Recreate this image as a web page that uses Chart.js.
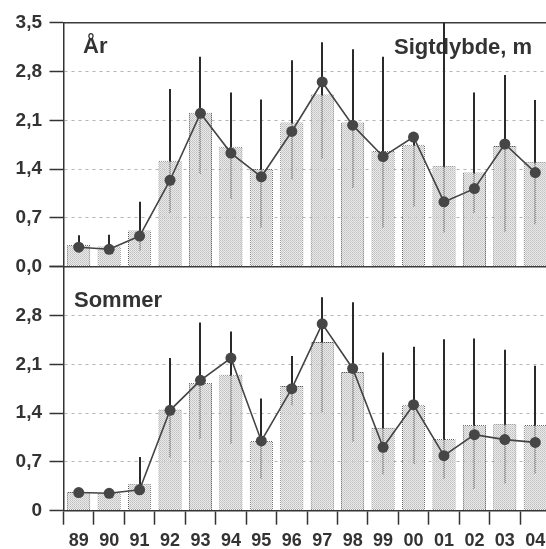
<!DOCTYPE html>
<html>
<head>
<meta charset="utf-8">
<script src="https://cdn.jsdelivr.net/npm/chart.js@4/dist/chart.umd.min.js"></script>
<style>
  html, body { margin: 0; padding: 0; background: #fff; overflow: hidden; }
  #wrap { width: 556px; height: 549px; }
</style>
</head>
<body>
<div id="wrap"><canvas id="c" width="556" height="549"></canvas></div>
<script>
// Sigtdybde (m), 1989–2004
const years = ['89','90','91','92','93','94','95','96','97','98','99','00','01','02','03','04'];

// Hele året
const aarBar  = [0.31, 0.29, 0.52, 1.52, 2.21, 1.72, 1.40, 2.07, 2.47, 2.07, 1.66, 1.75, 1.44, 1.35, 1.73, 1.50];
const aarMean = [0.28, 0.25, 0.44, 1.24, 2.20, 1.63, 1.29, 1.94, 2.65, 2.03, 1.58, 1.86, 0.93, 1.12, 1.76, 1.35];
const aarLow  = [0.20, 0.20, 0.23, 0.77, 1.33, 0.97, 0.56, 1.25, 1.55, 1.13, 0.56, 0.86, 0.49, 0.77, 0.50, 0.61];
const aarHigh = [0.45, 0.46, 0.93, 2.55, 3.01, 2.50, 2.40, 2.96, 3.22, 3.12, 3.01, 1.86, 3.50, 2.50, 2.75, 2.39];

// Sommer
const somBar  = [0.27, 0.25, 0.38, 1.45, 1.83, 1.95, 1.00, 1.79, 2.42, 1.99, 1.19, 1.52, 1.03, 1.23, 1.24, 1.23];
const somMean = [0.26, 0.25, 0.30, 1.44, 1.87, 2.19, 1.00, 1.75, 2.68, 2.04, 0.91, 1.52, 0.79, 1.09, 1.02, 0.98];
const somLow  = [null, null, 0.25, 0.76, 1.03, 0.96, 0.46, 1.51, 1.41, 0.99, 0.52, 0.67, 0.46, 0.31, 0.39, 0.53];
const somHigh = [null, null, 0.77, 2.19, 2.70, 2.57, 1.61, 2.22, 3.06, 2.99, 2.27, 2.35, 2.46, 2.47, 2.31, 2.08];

// Tick labels of the two panels
const yTicksTop = ['0,0', '0,7', '1,4', '2,1', '2,8', '3,5'];
const yTicksBot = ['0', '0,7', '1,4', '2,1', '2,8', ''];

const FONT = "'Liberation Sans', Arial, sans-serif";
const INK = '#333';

// small repeating pixel patterns for the stippled bars
function makePattern(size, cells) {
  const c = document.createElement('canvas');
  c.width = size; c.height = size;
  const g = c.getContext('2d');
  cells.forEach(([x, y, col]) => { g.fillStyle = col; g.fillRect(x, y, 1, 1); });
  return g.createPattern(c, 'repeat');
}
const barFill = makePattern(2, [
  [0, 0, '#c0c0c0'], [1, 1, '#cccccc'],
  [1, 0, 'rgba(222,222,222,0.6)'], [0, 1, 'rgba(218,218,218,0.6)']
]);
const barEdge = makePattern(2, [
  [0, 0, '#555555'], [1, 1, '#666666'], [1, 0, 'rgba(150,150,150,0.6)']
]);

// whiskers, frame lines and panel captions, drawn under the bars
const panelDecor = {
  id: 'panelDecor',
  beforeDatasetsDraw(chart) {
    const { ctx, chartArea: a, scales } = chart;
    const x = scales.x, yT = scales.yTop, yB = scales.yBot;

    ctx.save();
    // captions
    ctx.fillStyle = INK;
    ctx.textBaseline = 'alphabetic';
    ctx.font = 'bold 22px ' + FONT;
    ctx.fillText('År', a.left + 19.5, yT.getPixelForValue(3.5) + 30);
    ctx.fillText('Sommer', a.left + 10.5, yB.getPixelForValue(3.5) + 40);
    ctx.fillText('Sigtdybde, m', a.left + 330.5, yT.getPixelForValue(3.5) + 31.5);

    // solid frame lines at the top and between the panels
    ctx.strokeStyle = '#3a3a3a';
    ctx.lineWidth = 1.5;
    [yT.getPixelForValue(3.5), yT.getPixelForValue(0)].forEach(py => {
      ctx.beginPath(); ctx.moveTo(a.left, py); ctx.lineTo(a.right, py); ctx.stroke();
    });

    // whiskers
    ctx.beginPath();
    ctx.rect(a.left, a.top, a.right - a.left, a.bottom - a.top);
    ctx.clip();
    ctx.strokeStyle = '#2a2a2a';
    ctx.lineWidth = 2;
    [[aarLow, aarHigh, yT], [somLow, somHigh, yB]].forEach(([lo, hi, ys]) => {
      years.forEach((_, i) => {
        if (lo[i] == null || hi[i] == null) return;
        const px = Math.round(x.getPixelForValue(i));
        ctx.beginPath();
        ctx.moveTo(px, ys.getPixelForValue(lo[i]));
        ctx.lineTo(px, ys.getPixelForValue(hi[i]));
        ctx.stroke();
      });
    });
    ctx.restore();
  }
};

const barStyle = {
  type: 'bar',
  backgroundColor: barFill,
  borderColor: barEdge,
  borderWidth: 1,
  borderSkipped: false,
  barPercentage: 0.76,
  categoryPercentage: 1.0,
  grouped: false,
  order: 2
};
const lineStyle = {
  type: 'line',
  borderColor: '#444',
  borderWidth: 1.6,
  pointRadius: 5.5,
  pointBackgroundColor: '#464646',
  pointBorderColor: '#464646',
  pointBorderWidth: 0,
  tension: 0,
  order: 1
};

const yAxis = (labels) => ({
  type: 'linear',
  position: 'left',
  stack: 'panels',
  stackWeight: 1,
  min: 0,
  max: 3.5,
  afterFit: s => { s.width = 63.5; },
  ticks: {
    stepSize: 0.7,
    padding: 7.5,
    color: INK,
    font: { family: FONT, size: 19, weight: 'bold' },
    callback: (v, i) => labels[i]
  },
  grid: {
    color: '#b4b4b4',
    lineWidth: 1,
    tickColor: INK,
    tickWidth: 1.5,
    tickLength: 14,
    tickBorderDash: []
  },
  border: { color: INK, width: 1.5, dash: [3, 4] }
});

new Chart(document.getElementById('c'), {
  type: 'bar',
  data: {
    labels: years,
    datasets: [
      { ...barStyle, label: 'År', data: aarBar, yAxisID: 'yTop' },
      { ...lineStyle, label: 'År middel', data: aarMean, yAxisID: 'yTop' },
      { ...barStyle, label: 'Sommer', data: somBar, yAxisID: 'yBot' },
      { ...lineStyle, label: 'Sommer middel', data: somMean, yAxisID: 'yBot' }
    ]
  },
  options: {
    responsive: false,
    animation: false,
    devicePixelRatio: 1,
    layout: { padding: { top: 22.7, right: 0, bottom: 0, left: 0 } },
    plugins: { legend: { display: false }, tooltip: { enabled: false }, title: { display: false } },
    scales: {
      x: {
        type: 'category',
        offset: true,
        afterFit: s => { s.height = 38.3; },
        ticks: {
          color: INK,
          padding: 6,
          maxRotation: 0,
          autoSkip: false,
          font: { family: FONT, size: 18, weight: 'bold' }
        },
        grid: {
          offset: true,
          drawOnChartArea: false,
          tickLength: 14,
          tickColor: INK,
          tickWidth: 1.5
        },
        border: { color: INK, width: 1.5 }
      },
      yBot: yAxis(yTicksBot),
      yTop: yAxis(yTicksTop)
    }
  },
  plugins: [panelDecor]
});
</script>
</body>
</html>
